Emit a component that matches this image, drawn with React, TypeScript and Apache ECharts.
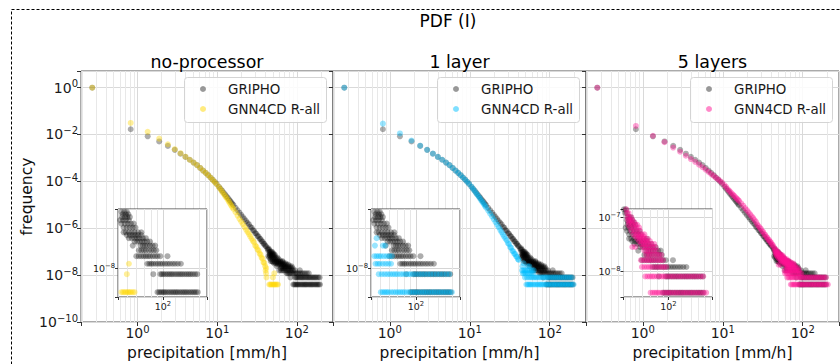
import React, { useEffect, useRef } from 'react';
import * as echarts from 'echarts';

// ---------------- DATA ----------------
const PANEL_TITLES = ['no-processor', '1 layer', '5 layers'];
const SERIES_NAMES = ['GRIPHO', 'GNN4CD R-all'];
const X_NAME = 'precipitation [mm/h]';
const Y_NAME = 'frequency';
const SUPTITLE = 'PDF (I)';

// GRIPHO (observations), [precipitation, frequency]
const GRIPHO_HEAD = [
  [0.27, 0.98], [0.82, 1.66e-2], [1.34, 8.3e-3], [1.87, 5.0e-3], [2.4, 3.24e-3], [2.93, 2.19e-3],
  [3.46, 1.51e-3], [3.99, 1.1e-3], [4.52, 8.3e-4], [5.05, 6.3e-4], [5.58, 4.9e-4], [6.11, 3.72e-4],
  [6.64, 2.88e-4], [7.17, 2.29e-4], [7.7, 1.82e-4], [8.23, 1.45e-4], [8.76, 1.17e-4], [9.29, 9.55e-5],
  [9.82, 7.76e-5],
];
const GRIPHO_BODY = [
  [10.5, 5.87e-5], [11, 4.81e-5], [11.5, 3.97e-5], [12, 3.3e-5], [12.5, 2.77e-5], [13, 2.34e-5],
  [13.5, 2.0e-5], [14, 1.71e-5], [14.5, 1.47e-5], [15, 1.27e-5], [15.5, 1.1e-5], [16, 9.6e-6],
  [17, 7.4e-6], [18, 5.78e-6], [19, 4.58e-6], [20, 3.68e-6], [21, 2.99e-6], [22, 2.44e-6],
  [23, 2.02e-6], [24, 1.68e-6], [25, 1.45e-6], [26, 1.15e-6], [27, 1.05e-6], [28, 8.3e-7],
  [29, 7.7e-7], [30, 6.2e-7], [31, 5.8e-7], [32, 4.7e-7], [33, 4.4e-7], [34, 3.6e-7], [35, 3.45e-7],
  [36, 2.8e-7], [37, 2.7e-7], [38, 2.2e-7], [39, 2.15e-7], [40, 1.8e-7], [41, 1.7e-7],
];
// tail: [frequency level, precipitation values at that level]
const GRIPHO_TAIL = [
  [1.39e-7, [42.5, 44]],
  [1.19e-7, [43.5, 45]],
  [9.95e-8, [45.5, 47, 48.5]],
  [8.76e-8, [45, 47.5, 50]],
  [7.96e-8, [46, 49, 51.5]],
  [7.16e-8, [45.5, 48, 50.5, 53]],
  [6.37e-8, [44, 46.5, 49, 52]],
  [5.57e-8, [45, 48, 51, 54, 57]],
  [4.78e-8, [47, 50, 53, 56, 59]],
  [3.98e-8, [47, 49, 52, 55, 58, 62, 66]],
  [3.58e-8, [50, 53, 56, 59, 62, 66]],
  [3.18e-8, [52, 55, 58, 61, 64, 68, 72]],
  [2.79e-8, [58, 61, 64, 67, 70, 74, 78]],
  [2.39e-8, [56, 65, 68, 71, 74, 78, 82, 86]],
  [1.99e-8, [63, 66, 69, 72, 76, 80, 84, 88]],
  [1.59e-8, [60, 63, 66, 69, 72, 75, 78, 82, 86, 90, 95, 109]],
  [1.19e-8, [74, 77, 80, 83, 87, 91, 95, 99, 104, 109, 114, 120, 126, 133, 141]],
  [7.96e-9, [83, 95, 98, 101, 105, 109, 113, 117, 121, 126, 131, 136, 141, 146, 152, 158, 164, 170, 177, 185, 193]],
  [3.98e-9, [90, 93, 96, 99, 102, 105, 109, 113, 117, 121, 125, 129, 133, 138, 143, 148, 153, 158, 164, 170, 176, 182, 188, 195]],
];

// GNN4CD no-processor
const NOPROC_HEAD = [
  [0.27, 0.98], [0.82, 3.09e-2], [1.34, 1.29e-2], [1.87, 6.6e-3], [2.4, 3.8e-3], [2.93, 2.34e-3],
  [3.46, 1.58e-3], [3.99, 1.12e-3], [4.52, 8.3e-4], [5.05, 6.3e-4], [5.58, 4.9e-4], [6.11, 3.72e-4],
  [6.64, 2.88e-4], [7.17, 2.29e-4], [7.7, 1.82e-4], [8.23, 1.45e-4], [8.76, 1.15e-4], [9.29, 9.3e-5],
  [9.82, 7.5e-5],
];
const NOPROC_BODY = [
  [10.5, 5.62e-5], [11, 4.57e-5], [11.5, 3.63e-5], [12, 2.95e-5], [12.5, 2.4e-5], [13, 2.0e-5],
  [13.5, 1.66e-5], [14, 1.35e-5], [14.5, 1.12e-5], [15, 9.33e-6], [15.5, 7.76e-6], [16, 6.61e-6],
  [17, 4.79e-6], [18, 3.47e-6], [19, 2.51e-6], [20, 1.91e-6], [21, 1.48e-6], [22, 1.12e-6],
  [23, 8.71e-7], [24, 6.92e-7], [25, 5.62e-7], [26, 4.47e-7], [27, 3.55e-7], [28, 2.88e-7],
  [29, 2.5e-7], [30, 1.8e-7], [31, 1.65e-7], [32, 1.25e-7], [33, 1.12e-7], [34, 8.4e-8], [35, 7.4e-8],
  [36, 5.6e-8], [37, 5.0e-8], [38, 3.5e-8], [39, 3.3e-8], [40, 2.4e-8], [41, 2.0e-8],
];
const NOPROC_TAIL = [
  [1.59e-8, [40.5]],
  [1.19e-8, [41, 52]],
  [7.96e-9, [41.5, 50]],
  [3.98e-9, [45, 46.5, 48, 49.5, 51, 52.5, 54, 56, 58]],
];

// GNN4CD 1 layer
const ONE_HEAD = [
  [0.27, 0.98], [0.82, 2.88e-2], [1.34, 1.1e-2], [1.87, 5.5e-3], [2.4, 3.3e-3], [2.93, 2.2e-3],
  [3.46, 1.52e-3], [3.99, 1.1e-3], [4.52, 8.3e-4], [5.05, 6.3e-4], [5.58, 4.9e-4], [6.11, 3.72e-4],
  [6.64, 2.88e-4], [7.17, 2.29e-4], [7.7, 1.82e-4], [8.23, 1.45e-4], [8.76, 1.17e-4], [9.29, 9.5e-5],
  [9.82, 7.7e-5],
];
const ONE_BODY = [
  [10.5, 5.89e-5], [11, 4.79e-5], [11.5, 3.89e-5], [12, 3.16e-5], [12.5, 2.63e-5], [13, 2.19e-5],
  [13.5, 1.82e-5], [14, 1.48e-5], [14.5, 1.26e-5], [15, 1.07e-5], [15.5, 8.91e-6], [16, 7.59e-6],
  [17, 5.62e-6], [18, 4.17e-6], [19, 3.16e-6], [20, 2.4e-6], [21, 1.82e-6], [22, 1.41e-6],
  [23, 1.1e-6], [24, 8.51e-7], [25, 6.76e-7], [26, 5.37e-7], [27, 4.37e-7], [28, 3.55e-7],
  [29, 3.0e-7], [30, 2.3e-7], [31, 2.1e-7], [32, 1.55e-7], [33, 1.45e-7], [34, 1.08e-7], [35, 1.04e-7],
  [36, 8.2e-8], [37, 7.9e-8], [38, 6.3e-8], [39, 6.0e-8], [40, 4.8e-8], [41, 4.4e-8],
];
const ONE_TAIL = [
  [3.18e-8, [47]],
  [2.39e-8, [45.5, 53, 55.5]],
  [1.59e-8, [45, 47, 49, 51, 54, 57, 60, 63]],
  [1.19e-8, [46, 48, 50, 53, 56, 59, 62]],
  [7.96e-9, [49, 52, 55, 58, 61, 64, 67, 70, 74, 78, 82, 86, 90, 95, 100, 106, 112, 118, 125, 132, 140, 149, 158, 168, 179, 190]],
  [3.98e-9, [51, 53, 55, 57, 59, 62, 65, 68, 71, 74, 77, 80, 84, 88, 92, 96, 100, 105, 110, 115, 120, 126, 132, 138, 144, 151, 158, 165, 173, 181, 190, 199]],
];

// GNN4CD 5 layers
const FIVE_HEAD = [
  [0.27, 0.98], [0.82, 2.29e-2], [1.34, 8.71e-3], [1.87, 4.68e-3], [2.4, 2.75e-3], [2.93, 1.82e-3],
  [3.46, 1.23e-3], [3.99, 8.91e-4], [4.52, 6.76e-4], [5.05, 5.13e-4], [5.58, 3.98e-4], [6.11, 3.16e-4],
  [6.64, 2.51e-4], [7.17, 2.04e-4], [7.7, 1.7e-4], [8.23, 1.41e-4], [8.76, 1.2e-4], [9.29, 1.02e-4],
  [9.82, 8.71e-5],
];
const FIVE_BODY = [
  [10.5, 6.92e-5], [11, 5.75e-5], [11.5, 4.68e-5], [12, 3.98e-5], [12.5, 3.47e-5], [13, 3.02e-5],
  [13.5, 2.63e-5], [14, 2.34e-5], [14.5, 2.04e-5], [15, 1.82e-5], [15.5, 1.62e-5], [16, 1.45e-5],
  [17, 1.15e-5], [18, 9.12e-6], [19, 7.24e-6], [20, 5.89e-6], [21, 4.79e-6], [22, 3.89e-6],
  [23, 3.24e-6], [24, 2.69e-6], [25, 2.24e-6], [26, 1.86e-6], [27, 1.45e-6], [28, 1.23e-6],
  [29, 1.05e-6], [30, 9.3e-7], [31, 7.4e-7], [32, 7.0e-7], [33, 5.5e-7], [34, 5.2e-7], [35, 4.2e-7],
  [36, 4.0e-7], [37, 3.25e-7], [38, 3.1e-7], [39, 2.6e-7], [40, 2.5e-7], [41, 2.05e-7], [42, 1.95e-7],
  [43, 1.65e-7],
];
const FIVE_TAIL = [
  [1.39e-7, [44.5]],
  [1.19e-7, [45, 46.5]],
  [9.95e-8, [45.5, 47, 49]],
  [8.76e-8, [46, 48, 50]],
  [7.96e-8, [47, 49.5, 52]],
  [7.16e-8, [46.5, 50, 53, 55]],
  [6.37e-8, [48, 51, 54, 57]],
  [5.57e-8, [49, 52, 55, 58]],
  [4.78e-8, [51, 54, 57, 60, 63]],
  [4.38e-8, [53, 56, 59, 62]],
  [3.98e-8, [55, 58, 61, 64, 67]],
  [3.58e-8, [57, 60, 63, 66, 70]],
  [3.18e-8, [59, 62, 65, 68, 72, 76]],
  [2.79e-8, [50, 53, 61, 64, 67, 70, 74, 78]],
  [2.39e-8, [63, 66, 69, 72, 76, 80]],
  [1.99e-8, [65, 68, 71, 75, 79, 83, 87]],
  [1.59e-8, [59, 62, 65, 68, 71, 74, 78, 82, 86, 90]],
  [1.19e-8, [60, 63, 66, 69, 72, 76, 80, 84, 88, 92, 96]],
  [7.96e-9, [64, 67, 70, 73, 76, 80, 84, 88, 92, 96, 101, 106, 111, 117, 123, 129, 136, 143, 150, 158, 166, 175, 185, 195]],
  [3.98e-9, [71, 74, 77, 80, 83, 87, 91, 95, 99, 103, 108, 113, 118, 124, 130, 136, 142, 149, 156, 163, 171, 179, 188, 197, 206]],
];

// ---------------- STYLE / LAYOUT ----------------
const FONT = '"DejaVu Sans", "Liberation Sans", sans-serif';
const GRIPHO_COLOR = 'rgba(0,0,0,0.4)';
const MODEL_COLORS = ['rgba(255,215,0,0.5)', 'rgba(0,191,255,0.5)', 'rgba(255,20,147,0.5)'];
const PANEL_LEFT = [81, 333, 586];
const PANEL_WIDTH = [252, 253, 253];
const PANEL_TOP = 71;
const PANEL_HEIGHT = 251;
const INSET_LEFT = [118, 371, 623.5];
const INSET_TOP = 209;
const INSET_W = 89;
const INSET_H = 88;
const LEGEND_LEFT = [184.5, 437.5, 690.5];
const LEGEND_TOP = 77.5;

const MAIN_X = [0.195, 284];
const MAIN_Y = [1e-10, 5.06];
const INSET_X = [42.2, 232.7];
const INSET_Y = [[3.31e-9, 9.77e-8], [3.31e-9, 9.77e-8], [3.31e-9, 1.41e-7]];

const MAIN_MINOR_X = [0.2, 0.3, 0.4, 0.5, 0.6, 0.7, 0.8, 0.9, 2, 3, 4, 5, 6, 7, 8, 9, 20, 30, 40, 50, 60, 70, 80, 90, 200];
const INSET_MINOR_X = [50, 60, 70, 80, 90, 200];
const INSET_MINOR_Y = [4e-9, 5e-9, 6e-9, 7e-9, 8e-9, 9e-9, 2e-8, 3e-8, 4e-8, 5e-8, 6e-8, 7e-8, 8e-8, 9e-8];

const build = (head: number[][], body: number[][], tail: any[]) => {
  const pts = head.concat(body).map((p) => [p[0], p[1]]);
  tail.forEach(([f, xs]: [number, number[]]) => xs.forEach((x) => pts.push([x, f])));
  return pts;
};

const powLabel = (v: number) => {
  const e = Math.log10(v);
  const r = Math.round(e);
  if (Math.abs(e - r) > 1e-6) return '';
  return `{b|10}{s|${r < 0 ? '\u2212' : ''}${Math.abs(r)}}`;
};

const MAIN_RICH = {
  b: { fontSize: 14, fontFamily: FONT, color: '#1a1a1a', lineHeight: 18 },
  s: { fontSize: 10, fontFamily: FONT, color: '#1a1a1a', lineHeight: 9, verticalAlign: 'top' },
};
const INSET_RICH = {
  b: { fontSize: 9.5, fontFamily: FONT, color: '#1a1a1a', lineHeight: 12 },
  s: { fontSize: 6.8, fontFamily: FONT, color: '#1a1a1a', lineHeight: 6, verticalAlign: 'top' },
};

function legendGraphic(i: number) {
  const x0 = LEGEND_LEFT[i];
  const y0 = LEGEND_TOP;
  const colors = [GRIPHO_COLOR, MODEL_COLORS[i]];
  const children: any[] = [
    {
      type: 'rect', shape: { x: x0, y: y0, width: 142, height: 45, r: 3 },
      style: { fill: 'rgba(255,255,255,0.85)', stroke: '#d4d4d4', lineWidth: 1 }, z: 4,
    },
  ];
  SERIES_NAMES.forEach((name, k) => {
    const cy = y0 + 11.5 + k * 20;
    children.push({
      type: 'circle', shape: { cx: x0 + 18.5, cy, r: 3 }, style: { fill: colors[k] }, z: 4,
    });
    children.push({
      type: 'text', x: x0 + 43.5, y: cy, z: 4,
      style: {
        text: name, fontFamily: FONT, fontSize: 13.4, fill: '#1a1a1a',
        textAlign: 'left', textVerticalAlign: 'middle',
      },
    });
  });
  return { type: 'group', silent: true, children };
}

function buildOption() {
  const models = [
    build(NOPROC_HEAD, NOPROC_BODY, NOPROC_TAIL),
    build(ONE_HEAD, ONE_BODY, ONE_TAIL),
    build(FIVE_HEAD, FIVE_BODY, FIVE_TAIL),
  ];
  const gripho = build(GRIPHO_HEAD, GRIPHO_BODY, GRIPHO_TAIL);

  const grid: any[] = [];
  const xAxis: any[] = [];
  const yAxis: any[] = [];
  const series: any[] = [];
  const graphic: any[] = [
    {
      type: 'rect', silent: true, z: 0,
      shape: { x: 11.5, y: 9.5, width: 1000, height: 500 },
      style: { fill: 'none', stroke: '#000', lineWidth: 1, lineDash: [3, 2] },
    },
  ];
  const title: any[] = [
    {
      text: SUPTITLE, left: 448, top: 12, textAlign: 'center', padding: 0,
      textStyle: { fontFamily: FONT, fontSize: 17, fontWeight: 'normal', color: '#000' },
    },
  ];

  for (let i = 0; i < 3; i++) {
    const mi = 2 * i;
    const ii = 2 * i + 1;
    grid.push({
      left: PANEL_LEFT[i], top: PANEL_TOP, width: PANEL_WIDTH[i], height: PANEL_HEIGHT,
      show: true, borderColor: '#555', borderWidth: 1, backgroundColor: 'transparent',
      containLabel: false, outerBoundsMode: 'none', z: 0,
    });
    grid.push({
      left: INSET_LEFT[i], top: INSET_TOP, width: INSET_W, height: INSET_H,
      show: true, borderColor: '#444', borderWidth: 1, backgroundColor: '#ffffff',
      containLabel: false, outerBoundsMode: 'none', z: 5,
    });

    xAxis.push({
      type: 'log', logBase: 10, gridIndex: mi, min: MAIN_X[0], max: MAIN_X[1],
      axisLine: { show: false },
      axisTick: { show: true, length: 4, lineStyle: { color: '#333' } },
      axisLabel: { formatter: powLabel, margin: 2, rich: MAIN_RICH },
      splitLine: { show: true, lineStyle: { color: '#d9d9d9', width: 1 } },
      name: X_NAME, nameLocation: 'middle', nameGap: 15,
      nameTextStyle: { fontFamily: FONT, fontSize: 15.5, color: '#111' },
      z: 0,
    });
    xAxis.push({
      type: 'log', logBase: 10, gridIndex: ii, min: INSET_X[0], max: INSET_X[1],
      axisLine: { show: false },
      axisTick: { show: true, length: 3, lineStyle: { color: '#333' } },
      axisLabel: { formatter: powLabel, margin: 3, rich: INSET_RICH },
      splitLine: { show: true, lineStyle: { color: '#d5d5d5', width: 1 } },
      z: 6,
    });
    yAxis.push({
      type: 'log', logBase: 100, gridIndex: mi, min: MAIN_Y[0], max: MAIN_Y[1],
      axisLine: { show: false },
      axisTick: { show: true, length: 4, lineStyle: { color: '#333' } },
      axisLabel: { show: i === 0, formatter: powLabel, margin: 3, rich: MAIN_RICH },
      splitLine: { show: true, lineStyle: { color: '#d9d9d9', width: 1 } },
      name: i === 0 ? Y_NAME : '', nameLocation: 'middle', nameGap: 46,
      nameTextStyle: { fontFamily: FONT, fontSize: 15.5, color: '#111' },
      z: 0,
    });
    yAxis.push({
      type: 'log', logBase: 10, gridIndex: ii, min: INSET_Y[i][0], max: INSET_Y[i][1],
      axisLine: { show: false },
      axisTick: { show: true, length: 3, lineStyle: { color: '#333' } },
      axisLabel: { formatter: powLabel, margin: 3, rich: INSET_RICH },
      splitLine: { show: true, lineStyle: { color: '#d5d5d5', width: 1 } },
      z: 6,
    });

    // minor grid lines (main)
    series.push({
      type: 'scatter', xAxisIndex: mi, yAxisIndex: mi, data: [], silent: true, z: 1,
      markLine: {
        silent: true, symbol: ['none', 'none'], label: { show: false }, z: 1, animation: false,
        lineStyle: { color: '#e8e8e8', width: 1, type: 'solid' },
        emphasis: { disabled: true },
        data: MAIN_MINOR_X.map((v) => ({ xAxis: v })),
      },
    });
    // minor grid lines (inset)
    series.push({
      type: 'scatter', xAxisIndex: ii, yAxisIndex: ii, data: [], silent: true, z: 6,
      markLine: {
        silent: true, symbol: ['none', 'none'], label: { show: false }, z: 6, animation: false,
        lineStyle: { color: '#e6e6e6', width: 1, type: 'solid' },
        emphasis: { disabled: true },
        data: [
          ...INSET_MINOR_X.map((v) => ({ xAxis: v })),
          ...INSET_MINOR_Y.filter((v) => v > INSET_Y[i][0] && v < INSET_Y[i][1]).map((v) => ({ yAxis: v })),
        ],
      },
    });

    const gName = SERIES_NAMES[0];
    const mName = SERIES_NAMES[1];
    series.push({
      type: 'scatter', name: gName, xAxisIndex: mi, yAxisIndex: mi, data: gripho,
      symbol: 'circle', symbolSize: 6, itemStyle: { color: GRIPHO_COLOR }, z: 2, silent: true,
    });
    series.push({
      type: 'scatter', name: mName, xAxisIndex: mi, yAxisIndex: mi, data: models[i],
      symbol: 'circle', symbolSize: 6, itemStyle: { color: MODEL_COLORS[i] }, z: 3, silent: true,
    });
    series.push({
      type: 'scatter', name: gName, xAxisIndex: ii, yAxisIndex: ii, data: gripho,
      symbol: 'circle', symbolSize: 6, itemStyle: { color: GRIPHO_COLOR }, z: 7, silent: true, clip: true,
    });
    series.push({
      type: 'scatter', name: mName, xAxisIndex: ii, yAxisIndex: ii, data: models[i],
      symbol: 'circle', symbolSize: 6, itemStyle: { color: MODEL_COLORS[i] }, z: 8, silent: true, clip: true,
    });

    graphic.push(legendGraphic(i));

    title.push({
      text: PANEL_TITLES[i], left: PANEL_LEFT[i] + PANEL_WIDTH[i] / 2, top: 53, textAlign: 'center', padding: 0,
      textStyle: { fontFamily: FONT, fontSize: 17.4, fontWeight: 'normal', color: '#000' },
    });
  }

  return {
    animation: false,
    backgroundColor: '#ffffff',
    textStyle: { fontFamily: FONT },
    title,
    grid,
    xAxis,
    yAxis,
    series,
    graphic,
  };
}

export default function App() {
  const ref = useRef<HTMLDivElement>(null);
  useEffect(() => {
    if (!ref.current) return;
    const chart = echarts.init(ref.current, undefined, { renderer: 'svg', width: 840, height: 364 });
    chart.setOption(buildOption() as any);
    return () => chart.dispose();
  }, []);
  return (
    <div
      ref={ref}
      style={{ position: 'absolute', left: 0, top: 0, width: 840, height: 364, background: '#fff' }}
    />
  );
}
